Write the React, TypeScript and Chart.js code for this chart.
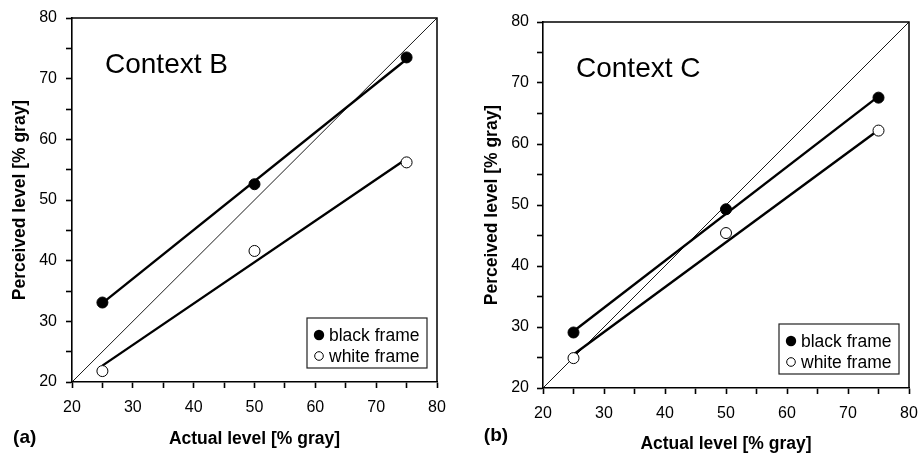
import React, { useEffect, useRef } from "react";
import { Chart, registerables } from "chart.js";

Chart.register(...registerables);

// ---------- data ----------
const actualLevels = [25, 50, 75];
const fitEnds = [25, 75];
const diagEnds = [20, 80];
const axisTicks = [20, 30, 40, 50, 60, 70, 80];
const seriesNames = ["black frame", "white frame"];

// Context B (a)
const bBlack = [33.1, 52.6, 73.5];
const bWhite = [21.8, 41.6, 56.2];
const bBlackFit = [33.0, 73.2];
const bWhiteFit = [22.7, 56.8];

// Context C (b)
const cBlack = [29.1, 49.3, 67.6];
const cWhite = [24.9, 45.4, 62.2];
const cBlackFit = [29.3, 67.8];
const cWhiteFit = [25.5, 62.3];

const FONT = "'Liberation Sans', Arial, Helvetica, sans-serif";

type PanelProps = {
  x: number;
  width: number;
  height: number;
  padT: number;
  padR: number;
  yWidth: number;
  xHeight: number;
  yTitlePad: number;
  xTitlePad: number;
  yTickPad: number;
  title: string;
  panelLabel: string;
  labelPos: [number, number];
  black: number[];
  white: number[];
  blackFit: number[];
  whiteFit: number[];
};

function toPts(xs: number[], ys: number[]) {
  return xs.map((x, i) => ({ x, y: ys[i] }));
}

function Panel(p: PanelProps) {
  const ref = useRef<HTMLCanvasElement | null>(null);
  useEffect(() => {
    if (!ref.current) return;
    const framePlugin = {
      id: "frameAndText",
      afterDraw(chart: any) {
        const { ctx, chartArea: a } = chart;
        ctx.save();
        // frame (top and right)
        ctx.strokeStyle = "#000";
        ctx.lineWidth = 1.5;
        ctx.beginPath();
        ctx.moveTo(a.left, a.top);
        ctx.lineTo(a.right, a.top);
        ctx.lineTo(a.right, a.bottom);
        ctx.stroke();
        // context title
        ctx.fillStyle = "#000";
        ctx.font = `28px ${FONT}`;
        ctx.textAlign = "left";
        ctx.textBaseline = "alphabetic";
        ctx.fillText(p.title, a.left + 33, a.top + 55);
        // legend box
        const bw = 120, bh = 50;
        const bx = a.right - 10 - bw;
        const by = a.bottom - 14 - bh;
        ctx.fillStyle = "#fff";
        ctx.fillRect(bx, by, bw, bh);
        ctx.lineWidth = 1.2;
        ctx.strokeStyle = "#222";
        ctx.strokeRect(bx, by, bw, bh);
        const rows = [by + 17, by + 38];
        // black marker
        ctx.beginPath();
        ctx.arc(bx + 12, rows[0], 5.2, 0, Math.PI * 2);
        ctx.fillStyle = "#000";
        ctx.fill();
        // white marker
        ctx.beginPath();
        ctx.arc(bx + 12, rows[1], 4.3, 0, Math.PI * 2);
        ctx.fillStyle = "#fff";
        ctx.fill();
        ctx.lineWidth = 1;
        ctx.strokeStyle = "#000";
        ctx.stroke();
        ctx.fillStyle = "#000";
        ctx.font = `17.5px ${FONT}`;
        ctx.textBaseline = "middle";
        ctx.fillText(seriesNames[0], bx + 22, rows[0] + 1);
        ctx.fillText(seriesNames[1], bx + 22, rows[1] + 1);
        // panel label
        ctx.font = `bold 19px ${FONT}`;
        ctx.textAlign = "center";
        ctx.fillText(p.panelLabel, p.labelPos[0], p.labelPos[1]);
        ctx.restore();
      },
    };

    const tickCb = (v: any) => (axisTicks.includes(Number(v)) ? String(v) : "");
    const chart = new Chart(ref.current, {
      type: "scatter",
      data: {
        datasets: [
          {
            label: seriesNames[0],
            data: toPts(actualLevels, p.black),
            pointRadius: 5.5,
            pointBackgroundColor: "#000",
            pointBorderColor: "#000",
            pointBorderWidth: 1,
            showLine: false,
            order: 0,
          },
          {
            label: seriesNames[1],
            data: toPts(actualLevels, p.white),
            pointRadius: 5.5,
            pointBackgroundColor: "#fff",
            pointBorderColor: "#000",
            pointBorderWidth: 1,
            showLine: false,
            order: 0,
          },
          {
            label: "black fit",
            data: toPts(fitEnds, p.blackFit),
            showLine: true,
            borderColor: "#000",
            borderWidth: 2.4,
            pointRadius: 0,
            order: 1,
          },
          {
            label: "white fit",
            data: toPts(fitEnds, p.whiteFit),
            showLine: true,
            borderColor: "#000",
            borderWidth: 2.4,
            pointRadius: 0,
            order: 1,
          },
          {
            label: "identity",
            data: toPts(diagEnds, diagEnds),
            showLine: true,
            borderColor: "#000",
            borderWidth: 0.9,
            pointRadius: 0,
            order: 2,
          },
        ],
      },
      options: {
        responsive: false,
        animation: false,
        events: [],
        layout: { padding: { left: 0, top: p.padT, right: p.padR, bottom: 0 } },
        plugins: { legend: { display: false }, tooltip: { enabled: false } },
        scales: {
          x: {
            type: "linear",
            min: 20,
            max: 80,
            afterFit: (s: any) => {
              s.height = p.xHeight;
              s.paddingLeft = 0;
              s.paddingRight = 0;
            },
            ticks: {
              stepSize: 5,
              autoSkip: false,
              maxRotation: 0,
              padding: 10,
              color: "#000",
              font: { family: FONT, size: 16 },
              callback: tickCb,
            },
            grid: { drawOnChartArea: false, drawTicks: true, tickLength: 6, tickColor: "#000", tickWidth: 1.6 },
            border: { display: true, color: "#000", width: 1.6 },
            title: {
              display: true,
              text: "Actual level [% gray]",
              color: "#000",
              font: { family: FONT, size: 17.5, weight: "bold" },
              padding: { top: 0, bottom: p.xTitlePad },
            },
          },
          y: {
            type: "linear",
            min: 20,
            max: 80,
            afterFit: (s: any) => {
              s.width = p.yWidth;
              s.paddingTop = 0;
              s.paddingBottom = 0;
            },
            ticks: {
              stepSize: 5,
              autoSkip: false,
              padding: p.yTickPad,
              color: "#000",
              font: { family: FONT, size: 16 },
              callback: tickCb,
            },
            grid: { drawOnChartArea: false, drawTicks: true, tickLength: 6, tickColor: "#000", tickWidth: 1.6 },
            border: { display: true, color: "#000", width: 1.6 },
            title: {
              display: true,
              text: "Perceived level [% gray]",
              color: "#000",
              font: { family: FONT, size: 17.5, weight: "bold" },
              padding: { top: p.yTitlePad, bottom: 0 },
            },
          },
        },
      } as any,
      plugins: [framePlugin],
    });
    return () => chart.destroy();
  }, []);
  return (
    <canvas
      ref={ref}
      width={p.width}
      height={p.height}
      style={{ position: "absolute", left: p.x, top: 0, width: p.width, height: p.height }}
    />
  );
}

export default function App() {
  return (
    <div style={{ position: "fixed", left: 0, top: 0, width: 919, height: 455, background: "#fff", overflow: "hidden" }}>
      <Panel
        x={0}
        width={460}
        height={455}
        padT={18}
        padR={23}
        yWidth={72}
        xHeight={73}
        yTitlePad={9.5}
        xTitlePad={5.5}
        yTickPad={9}
        title="Context B"
        panelLabel="(a)"
        labelPos={[24.7, 438]}
        black={bBlack}
        white={bWhite}
        blackFit={bBlackFit}
        whiteFit={bWhiteFit}
      />
      <Panel
        x={460}
        width={459}
        height={455}
        padT={22}
        padR={10}
        yWidth={83}
        xHeight={67}
        yTitlePad={22}
        xTitlePad={0}
        yTickPad={8}
        title="Context C"
        panelLabel="(b)"
        labelPos={[36, 436]}
        black={cBlack}
        white={cWhite}
        blackFit={cBlackFit}
        whiteFit={cWhiteFit}
      />
    </div>
  );
}
